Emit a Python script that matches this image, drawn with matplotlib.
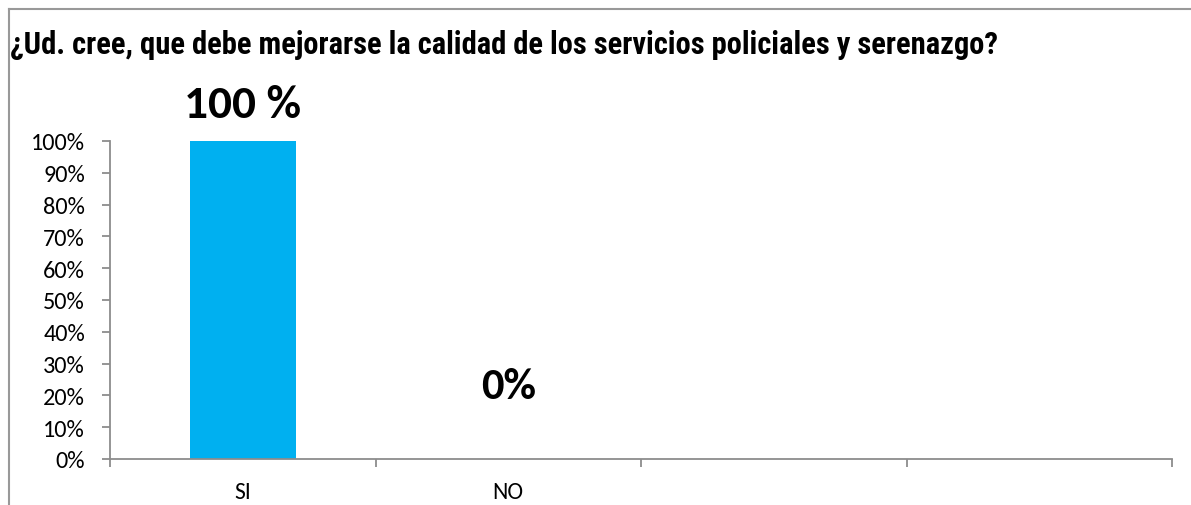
import matplotlib
matplotlib.use("Agg")
import matplotlib.pyplot as plt
from matplotlib import font_manager as fm
from matplotlib.lines import Line2D

categories = ["SI", "NO", "", ""]
values = [1.00, 0.0, None, None]
value_labels = ["100 %", "0%"]
yticks = [i / 10 for i in range(11)]
ytick_labels = [f"{i*10}%" for i in range(11)]
title = "¿Ud. cree, que debe mejorarse la calidad de los servicios policiales y serenazgo?"

names = {f.name for f in fm.fontManager.ttflist}
def pick(*cands):
    for c in cands:
        if c in names:
            return c
    return "DejaVu Sans"
title_font = pick("Roboto Condensed", "Open Sans Condensed", "Fira Sans Condensed", "DejaVu Sans")
body_font = pick("Carlito", "Lato", "DejaVu Sans")

fig = plt.figure(figsize=(11.91, 5.06), dpi=100)
ax = fig.add_axes([110/1191, 1-460/506, (1172-110)/1191, (460-142)/506])

bar_color = "#00B0F0"
x = list(range(len(categories)))
for i, v in enumerate(values):
    if v is not None:
        ax.bar(i, v, width=0.40, color=bar_color, zorder=2)

ax.set_xlim(-0.5, len(categories) - 0.5)
ax.set_ylim(0, 1)
ax.set_yticks(yticks)
ax.set_yticklabels(ytick_labels, fontsize=17.5, fontfamily=body_font)
ax.set_xticks([i - 0.5 for i in range(len(categories) + 1)])
ax.set_xticklabels([])
ax.set_xticks(x, minor=True)
ax.set_xticklabels(categories, minor=True, fontsize=17, fontfamily=body_font)
ax.tick_params(axis="x", which="minor", length=0, pad=16)
ax.tick_params(axis="x", which="major", length=6, width=1.3, color="#8c8c8c", direction="out")
ax.tick_params(axis="y", length=6, width=1.3, color="#8c8c8c", direction="out", pad=12)
for s in ["top", "right"]:
    ax.spines[s].set_visible(False)
for s in ["left", "bottom"]:
    ax.spines[s].set_color("#8c8c8c")
    ax.spines[s].set_linewidth(1.3)

# value labels
ax.annotate(value_labels[0], (0, values[0]), xytext=(0, 12), textcoords="offset points",
            ha="center", va="bottom", fontsize=34, fontweight="bold", fontfamily=body_font)
ax.text(1, 0.23, value_labels[1], ha="center", va="center", fontsize=32,
        fontweight="bold", fontfamily=body_font)

fig.text(10/1191, 1-45/506, title, ha="left", va="center", fontsize=22,
         fontweight="bold", fontfamily=title_font)

# outer frame lines
fig.add_artist(Line2D([9/1191, 1], [1-10/506, 1-10/506], color="#999999", lw=1.5, transform=fig.transFigure))
fig.add_artist(Line2D([9/1191, 9/1191], [0, 1-10/506], color="#999999", lw=1.5, transform=fig.transFigure))

fig.savefig("out.png", dpi=100)
